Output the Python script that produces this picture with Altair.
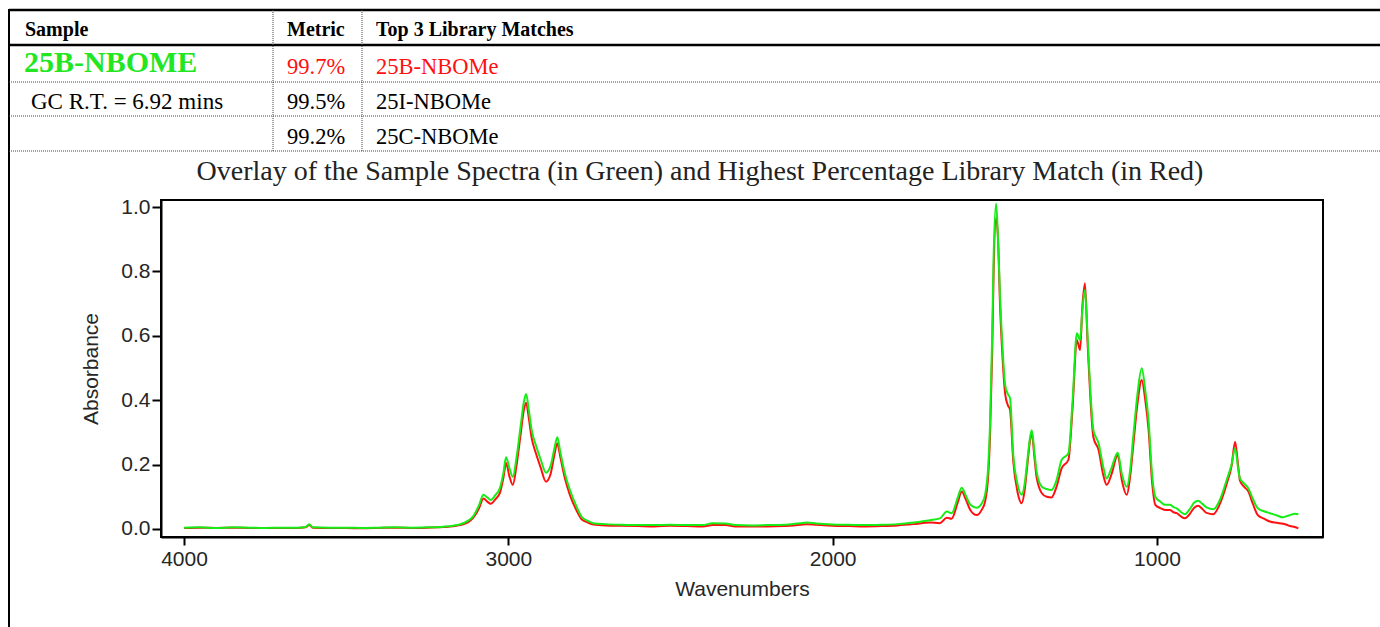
import altair as alt
import pandas as pd

# ---------------- data ----------------
wavenumbers = [4000, 3950, 3900, 3850, 3800, 3750, 3700, 3650, 3625, 3614, 3603, 3550, 3500, 3450, 3400,
               3350, 3300, 3250, 3200, 3170, 3150, 3125, 3108, 3090, 3077, 3065, 3054, 3040, 3026, 3015,
               3007, 2997, 2986, 2975, 2962, 2952, 2945, 2937, 2928, 2915, 2900, 2884, 2870, 2858, 2849,
               2840, 2825, 2810, 2790, 2774, 2755, 2738, 2700, 2650, 2600, 2550, 2500, 2450, 2400, 2370,
               2330, 2300, 2250, 2200, 2150, 2100, 2080, 2050, 2000, 1950, 1900, 1850, 1800, 1750, 1700,
               1669, 1648, 1633, 1615, 1602, 1590, 1575, 1556, 1540, 1530, 1520, 1515, 1508, 1504, 1496,
               1490, 1484, 1476, 1468, 1460, 1453, 1443, 1430, 1417, 1408, 1400, 1392, 1386, 1378, 1371,
               1355, 1340, 1325, 1310, 1294, 1273, 1260, 1247, 1237, 1230, 1222, 1214, 1206, 1196, 1180,
               1165, 1155, 1140, 1121, 1108, 1093, 1083, 1073, 1060, 1047, 1036, 1026, 1015, 1005, 990,
               975, 960, 949, 939, 925, 914, 900, 885, 873, 860, 847, 826, 806, 785, 770,
               759, 750, 744, 730, 718, 705, 689, 670, 652, 630, 611, 600, 590, 575, 564]

sample_green = [0.004, 0.005, 0.003, 0.005, 0.004, 0.003, 0.004, 0.004, 0.006, 0.015, 0.005, 0.004, 0.004, 0.003, 0.004,
                0.005, 0.004, 0.005, 0.007, 0.010, 0.014, 0.025, 0.040, 0.075, 0.106, 0.098, 0.090, 0.105, 0.127, 0.175,
                0.223, 0.190, 0.162, 0.220, 0.320, 0.395, 0.419, 0.370, 0.307, 0.260, 0.215, 0.175, 0.195, 0.250, 0.285,
                0.240, 0.170, 0.121, 0.070, 0.038, 0.025, 0.018, 0.015, 0.013, 0.012, 0.012, 0.013, 0.012, 0.012, 0.018,
                0.017, 0.012, 0.011, 0.012, 0.013, 0.018, 0.020, 0.017, 0.014, 0.013, 0.012, 0.013, 0.015, 0.020, 0.027,
                0.033, 0.054, 0.049, 0.095, 0.128, 0.105, 0.075, 0.066, 0.080, 0.106, 0.200, 0.314, 0.600, 0.830, 1.011,
                0.900, 0.727, 0.560, 0.447, 0.420, 0.406, 0.230, 0.140, 0.106, 0.140, 0.209, 0.280, 0.307, 0.240, 0.178,
                0.131, 0.124, 0.121, 0.150, 0.214, 0.235, 0.400, 0.608, 0.587, 0.680, 0.742, 0.600, 0.442, 0.307, 0.266,
                0.190, 0.157, 0.190, 0.237, 0.170, 0.131, 0.180, 0.287, 0.420, 0.499, 0.430, 0.339, 0.170, 0.100, 0.085,
                0.075, 0.075, 0.068, 0.064, 0.052, 0.046, 0.060, 0.082, 0.088, 0.078, 0.067, 0.061, 0.090, 0.152, 0.200,
                0.251, 0.190, 0.157, 0.140, 0.126, 0.095, 0.064, 0.055, 0.049, 0.042, 0.036, 0.040, 0.043, 0.047, 0.046]

library_red = [0.003, 0.004, 0.003, 0.004, 0.003, 0.003, 0.003, 0.003, 0.005, 0.012, 0.004, 0.003, 0.003, 0.002, 0.003,
               0.004, 0.003, 0.004, 0.006, 0.008, 0.012, 0.020, 0.035, 0.065, 0.095, 0.085, 0.078, 0.092, 0.112, 0.160,
               0.205, 0.165, 0.137, 0.195, 0.295, 0.370, 0.392, 0.345, 0.282, 0.235, 0.190, 0.147, 0.170, 0.230, 0.266,
               0.225, 0.155, 0.105, 0.058, 0.030, 0.020, 0.014, 0.011, 0.010, 0.009, 0.008, 0.010, 0.009, 0.008, 0.012,
               0.012, 0.008, 0.008, 0.008, 0.009, 0.013, 0.015, 0.013, 0.010, 0.009, 0.008, 0.009, 0.011, 0.015, 0.020,
               0.018, 0.035, 0.032, 0.080, 0.116, 0.093, 0.058, 0.043, 0.060, 0.085, 0.170, 0.280, 0.550, 0.780, 0.965,
               0.900, 0.700, 0.530, 0.420, 0.385, 0.370, 0.210, 0.115, 0.080, 0.120, 0.195, 0.270, 0.300, 0.225, 0.160,
               0.111, 0.100, 0.098, 0.130, 0.188, 0.215, 0.380, 0.587, 0.556, 0.690, 0.763, 0.580, 0.420, 0.285, 0.245,
               0.165, 0.137, 0.170, 0.230, 0.150, 0.106, 0.160, 0.260, 0.390, 0.463, 0.400, 0.310, 0.145, 0.075, 0.065,
               0.059, 0.059, 0.052, 0.049, 0.038, 0.033, 0.045, 0.066, 0.072, 0.062, 0.050, 0.046, 0.078, 0.140, 0.195,
               0.271, 0.200, 0.150, 0.130, 0.116, 0.080, 0.043, 0.032, 0.023, 0.019, 0.016, 0.013, 0.009, 0.006, 0.002]

x_ticks = [4000, 3000, 2000, 1000]
y_ticks = [0.0, 0.2, 0.4, 0.6, 0.8, 1.0]

header_labels = ["Sample", "Metric", "Top 3 Library Matches"]
sample_name = "25B-NBOME"
sample_info = "GC R.T. = 6.92 mins"
metrics = ["99.7%", "99.5%", "99.2%"]
matches = ["25B-NBOMe", "25I-NBOMe", "25C-NBOMe"]
title_text = "Overlay of the Sample Spectra (in Green) and Highest Percentage Library Match (in Red)"

GREEN = "#16ec16"
RED = "#ff1010"
SERIF = "Liberation Serif"
SANS = "Liberation Sans"
AXIS_TEXT = "#262626"

df = pd.DataFrame({"wavenumber": wavenumbers, "sample": sample_green, "library": library_red})

W, H = 1162, 337
PL, PT = 161, 200

xs = alt.X("wavenumber:Q", scale=alt.Scale(domain=[4071, 488], nice=False, zero=False),
           axis=alt.Axis(values=x_ticks, format="d", title="Wavenumbers", grid=False,
                         labelFont=SANS, labelFontSize=21, labelColor=AXIS_TEXT, labelPadding=3,
                         titleFont=SANS, titleFontSize=21, titleFontWeight="normal", titleColor=AXIS_TEXT,
                         titlePadding=9, tickSize=8, tickWidth=2, tickColor="black",
                         domainColor="black", domainWidth=2))
ys_axis = alt.Axis(values=y_ticks, format=".1f", title="Absorbance", grid=False,
                   labelFont=SANS, labelFontSize=21, labelColor=AXIS_TEXT, labelPadding=2,
                   titleFont=SANS, titleFontSize=21, titleFontWeight="normal", titleColor=AXIS_TEXT,
                   titlePadding=19, tickSize=9, tickWidth=2, tickColor="black",
                   domainColor="black", domainWidth=2)
yscale = alt.Scale(domain=[-0.025, 1.022], nice=False, zero=False)

base = alt.Chart(df)
red_line = base.mark_line(color=RED, strokeWidth=2, interpolate="monotone").encode(
    x=xs, y=alt.Y("library:Q", scale=yscale, axis=ys_axis))
green_line = base.mark_line(color=GREEN, strokeWidth=2, interpolate="monotone").encode(
    x=alt.X("wavenumber:Q"), y=alt.Y("sample:Q"))

one = pd.DataFrame({"a": [0]})


def rule(x1, x2, y1, y2, width=1, dash=None, color="black"):
    kw = dict(color=color, strokeWidth=width)
    if dash:
        kw["strokeDash"] = dash
    return alt.Chart(one).mark_rule(**kw).encode(
        x=alt.value(x1 - PL), x2=alt.value(x2 - PL), y=alt.value(y1 - PT), y2=alt.value(y2 - PT))


def txt(s, x, y, size, weight="normal", color="black", font=SERIF, align="left"):
    return alt.Chart(one).mark_text(text=s, font=font, fontSize=size, fontWeight=weight, color=color,
                                    align=align, baseline="alphabetic").encode(
        x=alt.value(x - PL), y=alt.value(y - PT))


dots = [1, 1]
layers = [
    rule(9, 9, 9, 627, width=2),
    rule(9, 1380, 10, 10, width=2.5),
    rule(9, 1380, 45, 45, width=2.5),
    rule(9, 1380, 82, 82, dash=dots, color="#444"),
    rule(9, 1380, 116, 116, dash=dots, color="#444"),
    rule(9, 1380, 151, 151, dash=dots, color="#444"),
    rule(273, 273, 10, 151, dash=dots, color="#444"),
    rule(362, 362, 10, 151, dash=dots, color="#444"),
    txt(header_labels[0], 25, 36, 20, weight="bold"),
    txt(header_labels[1], 287, 36, 20, weight="bold"),
    txt(header_labels[2], 376, 36, 20, weight="bold"),
    txt(sample_name, 24, 72, 30, weight="bold", color="#22e622"),
    txt(metrics[0], 287, 74, 22.5, color=RED),
    txt(matches[0], 376, 74, 22.5, color=RED),
    txt(sample_info, 31, 109, 23),
    txt(metrics[1], 287, 109, 22.5),
    txt(matches[1], 376, 109, 22.5),
    txt(metrics[2], 287, 144, 22.5),
    txt(matches[2], 376, 144, 22.5),
    txt(title_text, 700, 180, 28, align="center", color="#222"),
]

chart = alt.layer(red_line, green_line, *layers).properties(
    width=W, height=H,
    autosize=alt.AutoSizeParams(type="none"),
    padding={"left": PL, "top": PT, "right": 1380 - PL - W, "bottom": 627 - PT - H},
    background="white",
).configure_view(stroke="black", strokeWidth=2)

chart.save("out.html", embed_options={"renderer": "svg", "actions": False})
